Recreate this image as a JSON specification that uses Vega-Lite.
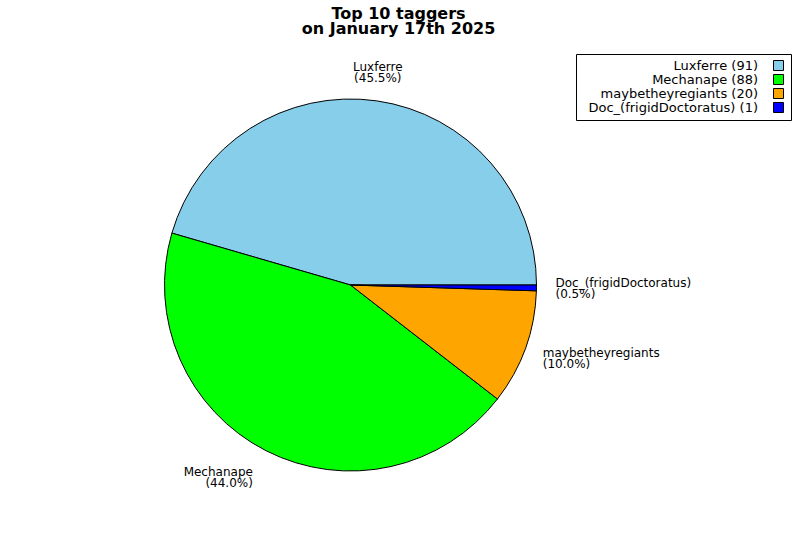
{
  "$schema": "https://vega.github.io/schema/vega-lite/v6.json",
  "width": 701,
  "height": 490,
  "autosize": {"type": "none"},
  "padding": {"left": 0, "top": 40, "right": 99, "bottom": 10},
  "background": "white",
  "config": {"view": {"stroke": null}, "font": "DejaVu Sans"},
  "title": {
    "text": ["Top 10 taggers", "on January 17th 2025"],
    "font": "DejaVu Sans",
    "fontSize": 16,
    "fontWeight": "bold",
    "lineHeight": 15,
    "color": "black",
    "anchor": "middle",
    "baseline": "alphabetic",
    "offset": -10,
    "dx": 48
  },
  "data": {
    "values": [
      {"name": "Luxferre", "count": 91},
      {"name": "Mechanape", "count": 88},
      {"name": "maybetheyregiants", "count": 20},
      {"name": "Doc_(frigidDoctoratus)", "count": 1}
    ]
  },
  "transform": [
    {"joinaggregate": [{"op": "sum", "field": "count", "as": "total"}]},
    {"calculate": "datum.name + ' (' + datum.count + ')'", "as": "legendLabel"},
    {"calculate": "[datum.name, '(' + format(datum.count / datum.total * 100, '.1f') + '%)']", "as": "label"}
  ],
  "encoding": {
    "theta": {"field": "count", "type": "quantitative", "stack": true, "scale": {"range": [1.5707963, 7.8539816]}},
    "order": {"field": "count", "sort": "ascending"}
  },
  "layer": [
    {
      "mark": {"type": "arc", "radius": 186, "stroke": "black", "strokeWidth": 1},
      "encoding": {
        "color": {
          "field": "legendLabel",
          "type": "nominal",
          "scale": {
            "domain": ["Luxferre (91)", "Mechanape (88)", "maybetheyregiants (20)", "Doc_(frigidDoctoratus) (1)"],
            "range": ["#87CEEB", "#00FF00", "#FFA500", "#0000FF"]
          },
          "legend": {
            "title": null,
            "orient": "none",
            "legendX": 576,
            "legendY": 14,
            "strokeColor": "black",
            "fillColor": "white",
            "padding": 5,
            "symbolType": "square",
            "symbolSize": 100,
            "symbolStrokeColor": "black",
            "symbolStrokeWidth": 1,
            "symbolOpacity": 1,
            "symbolOffset": 191,
            "labelFont": "DejaVu Sans",
            "labelFontSize": 13,
            "labelColor": "black",
            "labelAlign": "right",
            "labelOffset": -27,
            "labelLimit": 400,
            "rowPadding": -1.5
          }
        }
      }
    },
    {
      "mark": {
        "type": "text",
        "radius": 215,
        "font": "DejaVu Sans",
        "fontSize": 12,
        "lineHeight": 11,
        "color": "black",
        "baseline": "middle",
        "dy": -5,
        "align": {"expr": "datum.name == 'Mechanape' ? 'right' : (datum.name == 'Luxferre' ? 'center' : 'left')"},
        "dx": {"expr": "(datum.name == 'maybetheyregiants' || datum.name == 'Doc_(frigidDoctoratus)') ? -10 : (datum.name == 'Luxferre' ? -3 : 0)"}
      },
      "encoding": {
        "text": {"field": "label"}
      }
    }
  ]
}
